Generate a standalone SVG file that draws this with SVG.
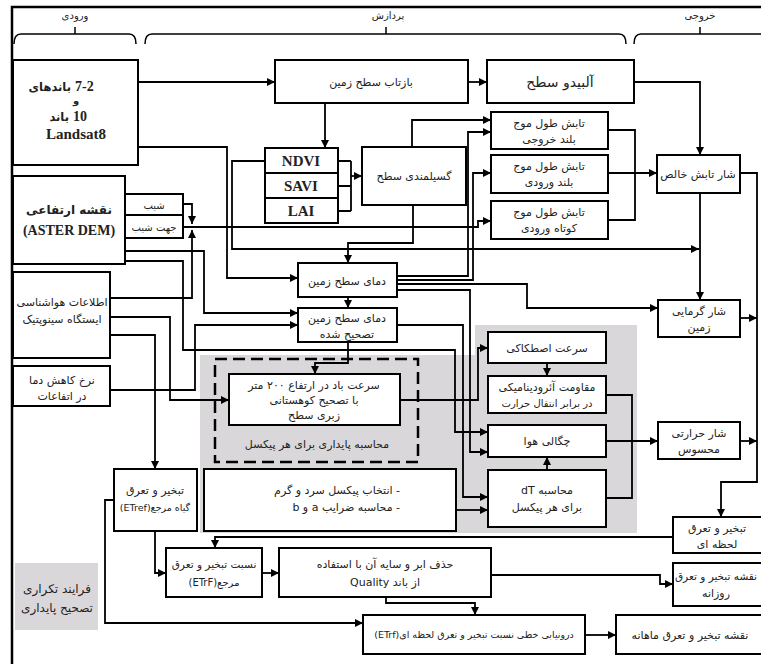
<svg xmlns="http://www.w3.org/2000/svg" width="761" height="664" viewBox="0 0 761 664">
<defs>
<marker id="ah" viewBox="0 0 10 10" refX="10" refY="5" markerWidth="8" markerHeight="8" orient="auto" markerUnits="userSpaceOnUse"><path d="M0,0 L10,5 L0,10 z" fill="#000"/></marker>
<style>
.bx{fill:#fff;stroke:#000;stroke-width:2}
.c{fill:none;stroke:#000;stroke-width:1.8}
.a{marker-end:url(#ah)}
.t{font-family:'DejaVu Sans',sans-serif;font-size:11px;fill:#222;text-anchor:middle;direction:rtl}
.b{font-family:'Liberation Serif','DejaVu Serif',serif;font-weight:bold;font-size:15px;fill:#222;text-anchor:middle}
.ba{font-family:'DejaVu Sans',sans-serif;font-weight:bold;font-size:12px;fill:#222;text-anchor:middle}
.h{font-family:'DejaVu Sans',sans-serif;font-size:10px;fill:#222;text-anchor:middle;direction:rtl}
.br{fill:none;stroke:#000;stroke-width:1.5}
</style>
</defs>
<rect x="0" y="0" width="761" height="664" fill="#fff"/>
<rect x="12" y="7" width="770" height="680" fill="none" stroke="#000" stroke-width="2.5"/>

<g id="headers">
<text class="h" x="75" y="19">ورودی</text>
<text class="h" x="388" y="19">پردازش</text>
<text class="h" x="700" y="19">خروجی</text>
<path class="br" d="M14,44 Q14,34 21,34 H129 Q136,34 136,44 M75,34 V27"/>
<path class="br" d="M145,44 Q145,34 152,34 H619 Q626,34 626,44 M386,34 V27"/>
<path class="br" d="M634,44 Q634,34 641,34 H775 M700,34 V27"/>
</g>

<g id="shading">
<polygon points="200,355 475,355 475,325 637,325 637,533 200,533" fill="#dad7db"/>
</g>

<g id="n-landsat"><rect class="bx" x="13" y="60" width="125" height="105"/>
<text class="ba" x="71" y="91" style="text-anchor:end;font-size:11.5px">باندهای</text>
<text class="b" x="75" y="91" style="text-anchor:start;font-size:14px">7-2</text>
<text class="ba" x="76" y="104" style="font-size:10px">و</text>
<text class="ba" x="69" y="121" style="text-anchor:end;font-size:11.5px">باند</text>
<text class="b" x="73" y="121" style="text-anchor:start;font-size:14px">10</text>
<text class="b" x="76" y="139">Landsat8</text></g>

<g id="n-refl"><rect class="bx" x="275" y="60" width="193" height="43"/>
<text class="t" x="371" y="86">بازتاب سطح زمین</text></g>

<g id="n-albedo"><rect class="bx" x="487" y="60" width="147" height="43"/>
<text class="t" x="560" y="87" style="font-size:14px">آلبیدو سطح</text></g>

<g id="n-vi"><rect class="bx" x="265" y="148" width="73" height="75"/>
<line x1="265" y1="173" x2="338" y2="173" stroke="#000" stroke-width="2"/>
<line x1="265" y1="198" x2="338" y2="198" stroke="#000" stroke-width="2"/>
<text class="b" x="301" y="166">NDVI</text>
<text class="b" x="301" y="191">SAVI</text>
<text class="b" x="301" y="216">LAI</text></g>

<g id="n-emis"><rect class="bx" x="362" y="147" width="104" height="58"/>
<text class="t" x="414" y="180">گسیلمندی سطح</text></g>

<g id="n-lwout"><rect class="bx" x="491" y="112" width="117" height="37"/>
<text class="t" x="549" y="127">تابش طول موج</text>
<text class="t" x="549" y="143">بلند خروجی</text></g>

<g id="n-lwin"><rect class="bx" x="491" y="155" width="117" height="38"/>
<text class="t" x="549" y="170">تابش طول موج</text>
<text class="t" x="549" y="186">بلند ورودی</text></g>

<g id="n-swin"><rect class="bx" x="491" y="201" width="117" height="38"/>
<text class="t" x="549" y="216">تابش طول موج</text>
<text class="t" x="549" y="232">کوتاه ورودی</text></g>

<g id="n-rn"><rect class="bx" x="657" y="155" width="83" height="38"/>
<text class="t" x="698" y="178">شار تابش خالص</text></g>

<g id="n-dem"><rect class="bx" x="13" y="176" width="112" height="88"/>
<text class="ba" x="69" y="214">نقشه ارتفاعی</text>
<text class="b" x="69" y="235" style="font-size:14px">(ASTER DEM)</text>
<rect class="bx" x="125" y="194" width="58" height="21"/>
<rect class="bx" x="125" y="215" width="58" height="23"/>
<text class="t" x="154" y="209" style="font-size:10px">شیب</text>
<text class="t" x="154" y="231" style="font-size:10px">جهت شیب</text></g>

<g id="n-met"><rect class="bx" x="13" y="272" width="97" height="86"/>
<text class="t" x="62" y="306">اطلاعات هواشناسی</text>
<text class="t" x="62" y="323">ایستگاه سینوپتیک</text></g>

<g id="n-lapse"><rect class="bx" x="13" y="366" width="97" height="40"/>
<text class="t" x="62" y="384">نرخ کاهش دما</text>
<text class="t" x="62" y="400">در اتفاعات</text></g>

<g id="n-lst"><rect class="bx" x="298" y="263" width="99" height="34"/>
<text class="t" x="347" y="285">دمای سطح زمین</text></g>

<g id="n-lstc"><rect class="bx" x="298" y="308" width="99" height="34"/>
<text class="t" x="347" y="322">دمای سطح زمین</text>
<text class="t" x="347" y="338">تصحیح شده</text></g>

<g id="n-stab"><rect x="215" y="359" width="203" height="103" fill="none" stroke="#000" stroke-width="2.5" stroke-dasharray="12 6"/>
<rect class="bx" x="229" y="374" width="171" height="51"/>
<text class="t" x="314" y="389">سرعت باد در ارتفاع ۲۰۰ متر</text>
<text class="t" x="314" y="404">با تصحیح کوهستانی</text>
<text class="t" x="314" y="419">زبری سطح</text>
<text class="t" x="317" y="448">محاسبه پایداری برای هر پیکسل</text></g>

<g id="n-ustar"><rect class="bx" x="488" y="332" width="118" height="31"/>
<text class="t" x="547" y="352">سرعت اصطکاکی</text></g>

<g id="n-rah"><rect class="bx" x="488" y="376" width="118" height="37"/>
<text class="t" x="547" y="391">مقاومت آئرودینامیکی</text>
<text class="t" x="547" y="407" style="font-size:10px">در برابر انتقال حرارت</text></g>

<g id="n-rho"><rect class="bx" x="488" y="425" width="118" height="32"/>
<text class="t" x="547" y="445">چگالی هوا</text></g>

<g id="n-dt"><rect class="bx" x="488" y="470" width="118" height="57"/>
<text class="t" x="547" y="494">محاسبه dT</text>
<text class="t" x="547" y="511">برای هر پیکسل</text></g>

<g id="n-g"><rect class="bx" x="658" y="300" width="82" height="37"/>
<text class="t" x="699" y="315">شار گرمایی</text>
<text class="t" x="699" y="331">زمین</text></g>

<g id="n-h"><rect class="bx" x="658" y="422" width="82" height="37"/>
<text class="t" x="699" y="437">شار حرارتی</text>
<text class="t" x="699" y="453">محسوس</text></g>

<g id="n-eta"><rect class="bx" x="673" y="517" width="100" height="36"/>
<text class="t" x="717" y="532">تبخیر و تعرق</text>
<text class="t" x="717" y="548">لحظه ای</text></g>

<g id="n-etref"><rect class="bx" x="114" y="469" width="83" height="62"/>
<text class="t" x="155" y="494">تبخیر و تعرق</text>
<text class="t" x="155" y="511" style="font-size:9.5px">گیاه مرجع(ETref)</text></g>

<g id="n-sel"><rect class="bx" x="204" y="469" width="252" height="62"/>
<text class="t" x="400" y="494" style="text-anchor:start">- انتخاب پیکسل سرد و گرم</text>
<text class="t" x="400" y="511" style="text-anchor:start">- محاسبه ضرایب a و b</text></g>

<g id="n-etrf"><rect class="bx" x="166" y="548" width="96" height="49"/>
<text class="t" x="214" y="568" style="font-size:10.5px">نسبت تبخیر و تعرق</text>
<text class="t" x="214" y="586" style="font-size:10px">مرجع(ETrF)</text></g>

<g id="n-cloud"><rect class="bx" x="279" y="548" width="212" height="49"/>
<text class="t" x="385" y="568">حذف ابر و سایه آن با استفاده</text>
<text class="t" x="385" y="586">از باند Quality</text></g>

<g id="n-daily"><rect class="bx" x="673" y="563" width="100" height="43"/>
<text class="t" x="716" y="580" style="font-size:10.5px">نقشه تبخیر و تعرق</text>
<text class="t" x="716" y="597">روزانه</text></g>

<g id="n-interp"><rect class="bx" x="363" y="615" width="222" height="39"/>
<text class="t" x="474" y="638" style="font-size:9.5px">درونیابی خطی نسبت تبخیر و تعرق لحظه ای(ETrf)</text></g>

<g id="n-monthly"><rect class="bx" x="616" y="615" width="160" height="39"/>
<text class="t" x="690" y="639">نقشه تبخیر و تعرق ماهانه</text></g>

<g id="n-iter"><rect x="15" y="563" width="83" height="67" fill="#dad7db"/>
<text class="t" x="57" y="593" style="font-size:12px">فرایند تکراری</text>
<text class="t" x="57" y="612" style="font-size:12px">تصحیح پایداری</text></g>

<g id="connectors">
<path class="c a" d="M138,82 H275"/>
<path class="c a" d="M468,82 H487"/>
<path class="c a" d="M325,103 V148"/>
<path class="c" d="M338,161 H351 M338,186 H351 M338,211 H351 M351,161 V211"/>
<path class="c a" d="M351,176 H362"/>
<path class="c a" d="M634,82 H700 V155"/>
<path class="c" d="M608,130 H635 V220 H608"/>
<path class="c a" d="M608,173 H657"/>
<path class="c a" d="M740,173 H757 V482 H721 V517"/>
<path class="c a" d="M700,193 V300"/>
<path class="c a" d="M412,147 V120 H491"/>
<path class="c a" d="M413,205 V243 H348 V263"/>
<path class="c a" d="M265,161 H232 V249 H699"/>
<path class="c a" d="M183,227 H478 V221 H491"/>
<path class="c a" d="M183,204 H192 V224"/>
<path class="c a" d="M110,298 H192 V230"/>
<path class="c a" d="M138,147 H227 V278 H298"/>
<path class="c a" d="M125,251 H204 V313 H298"/>
<path class="c a" d="M125,261 H183 V350 H455 V432 H488"/>
<path class="c a" d="M110,317 H170 V400 H229"/>
<path class="c a" d="M110,335 H155 V469"/>
<path class="c a" d="M110,390 H195 V325 H298"/>
<path class="c a" d="M348,297 V308"/>
<path class="c a" d="M348,342 V363 H315 V374"/>
<path class="c a" d="M397,325 H463 V497 H488"/>
<path class="c a" d="M397,276 H468 V132 H491"/>
<path class="c a" d="M397,280 H473 V173 H491"/>
<path class="c a" d="M397,284 H527 V308 H658"/>
<path class="c a" d="M397,290 H470 V452 H488"/>
<path class="c a" d="M400,400 H478 V348 H488"/>
<path class="c a" d="M547,363 V376"/>
<path class="c" d="M606,395 H632 V498 H606"/>
<path class="c a" d="M547,470 V457"/>
<path class="c a" d="M606,441 H658"/>
<path class="c a" d="M740,318 H757"/>
<path class="c a" d="M740,441 H757"/>
<path class="c a" d="M456,510 H488"/>
<path class="c a" d="M673,537 H215 V548"/>
<path class="c a" d="M155,531 V573 H166"/>
<path class="c a" d="M262,573 H279"/>
<path class="c a" d="M114,500 H105 V623 H363"/>
<path class="c a" d="M491,575 H660 V584 H673"/>
<path class="c a" d="M386,597 V603 H475 V615"/>
<path class="c a" d="M585,635 H616"/>
</g>
</svg>
